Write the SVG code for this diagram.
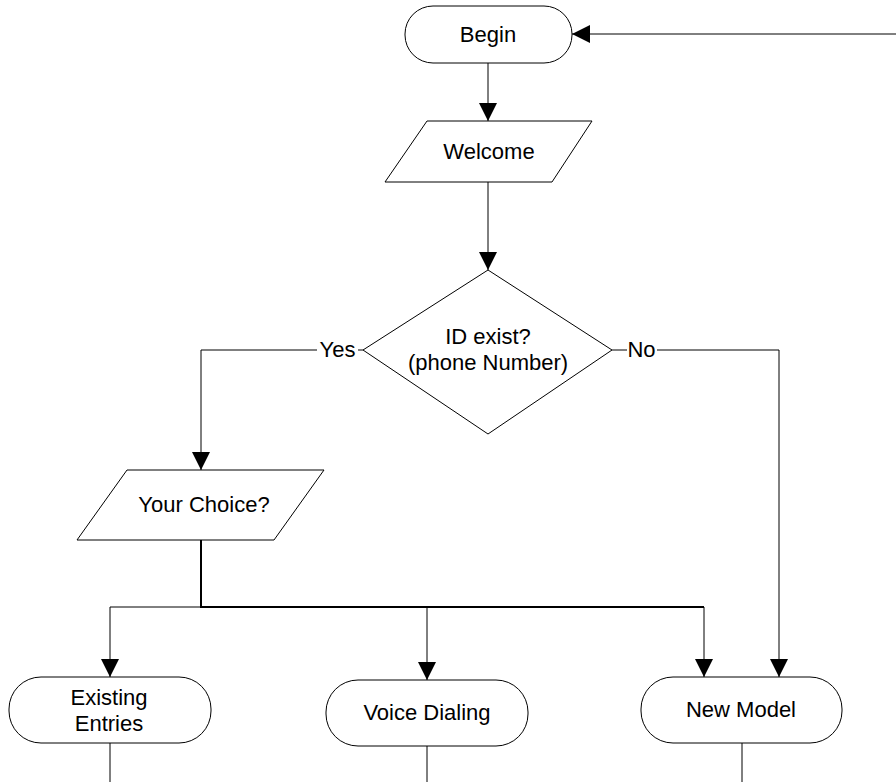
<svg xmlns="http://www.w3.org/2000/svg" width="896" height="782" viewBox="0 0 896 782">
<defs>
<marker id="arr" viewBox="0 0 18 18" refX="18" refY="9" markerWidth="18" markerHeight="18" markerUnits="userSpaceOnUse" orient="auto">
<path d="M0,0 L18,9 L0,18 z" fill="#000"/>
</marker>
<style>
.shape{fill:#fff;stroke:#000;stroke-width:1}
.line{fill:none;stroke:#000;stroke-width:1}
.thick{fill:none;stroke:#000;stroke-width:2}
.t{font-family:"Liberation Sans",Arial,sans-serif;font-size:22px;fill:#000;text-anchor:middle}
</style>
</defs>
<rect width="896" height="782" fill="#fff"/>
<g id="connectors">
<path class="line" d="M896,34 L572,34" marker-end="url(#arr)"/>
<path class="line" d="M488,63 L488,121" marker-end="url(#arr)"/>
<path class="line" d="M488,182 L488,270" marker-end="url(#arr)"/>
<path class="line" d="M363,350 L201,350 L201,470" marker-end="url(#arr)"/>
<path class="line" d="M612,350 L779,350 L779,677" marker-end="url(#arr)"/>
<path class="thick" d="M201,540 L201,607 L704,607"/>
<path class="line" d="M201,607 L110,607 L110,677" marker-end="url(#arr)"/>
<path class="line" d="M427,607 L427,680" marker-end="url(#arr)"/>
<path class="line" d="M704,607 L704,677" marker-end="url(#arr)"/>
<path class="line" d="M110,743 L110,782"/>
<path class="line" d="M427,746 L427,782"/>
<path class="line" d="M742,743 L742,782"/>
<rect x="317" y="338" width="41" height="24" fill="#fff"/>
<text class="t" x="337.5" y="357">Yes</text>
<rect x="627" y="338" width="30" height="24" fill="#fff"/>
<text class="t" x="641.5" y="357">No</text>
</g>
<g id="begin">
<rect class="shape" x="405" y="6" width="167" height="57" rx="28" ry="28"/>
<text class="t" x="488" y="42">Begin</text>
</g>
<g id="welcome">
<polygon class="shape" points="427,121 592,121 552,182 385,182"/>
<text class="t" x="489" y="159">Welcome</text>
</g>
<g id="id-exist">
<polygon class="shape" points="488,270 612,350 488,434 363,350"/>
<text class="t" x="488" y="344">ID exist?</text>
<text class="t" x="488" y="370">(phone Number)</text>
</g>
<g id="your-choice">
<polygon class="shape" points="127,470 324,470 274,540 77,540"/>
<text class="t" x="204" y="512">Your Choice?</text>
</g>
<g id="existing-entries">
<rect class="shape" x="9" y="677" width="202" height="66" rx="32" ry="32"/>
<text class="t" x="109" y="705">Existing</text>
<text class="t" x="109" y="731">Entries</text>
</g>
<g id="voice-dialing">
<rect class="shape" x="326" y="680" width="202" height="66" rx="32" ry="32"/>
<text class="t" x="427" y="720">Voice Dialing</text>
</g>
<g id="new-model">
<rect class="shape" x="641" y="677" width="201" height="66" rx="32" ry="32"/>
<text class="t" x="741" y="717">New Model</text>
</g>
</svg>
